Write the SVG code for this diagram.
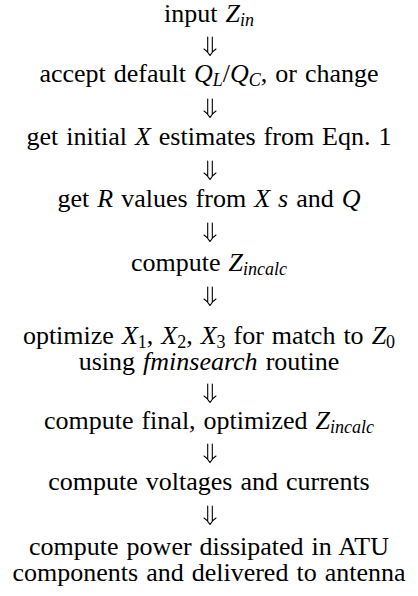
<svg xmlns="http://www.w3.org/2000/svg" width="418" height="596" viewBox="0 0 418 596">
<style>
text{font-family:"Liberation Serif","Times New Roman",serif;font-size:26px;word-spacing:1.5px;fill:#000;text-anchor:middle}
.m{font-style:italic}
.s{font-size:18px;font-style:italic}
.sn{font-size:18px}
.arr{fill:none;stroke:#000;stroke-width:1.1;stroke-linecap:round;stroke-linejoin:round}
</style>
<rect width="418" height="596" fill="#fff"/>
<defs>
<path id="dn" class="arr" d="M-2.3,0V15M2.3,0V15M-6,12Q-2,14.5 0,18.5Q2,14.5 6,12"/>
</defs>
<g id="connectors">
<use href="#dn" x="210" y="37"/>
<use href="#dn" x="210" y="99"/>
<use href="#dn" x="210" y="161"/>
<use href="#dn" x="210" y="223"/>
<use href="#dn" x="210" y="287"/>
<use href="#dn" x="210" y="384"/>
<use href="#dn" x="210" y="444"/>
<use href="#dn" x="210" y="506"/>
</g>
<g id="n1"><text x="209" y="22">input <tspan class="m">Z</tspan><tspan class="s" dy="4">in</tspan></text></g>
<g id="n2"><text x="209" y="82">accept default <tspan class="m">Q</tspan><tspan class="s" dy="4">L</tspan><tspan dy="-4">/</tspan><tspan class="m">Q</tspan><tspan class="s" dy="4">C</tspan><tspan dy="-4">, or change</tspan></text></g>
<g id="n3"><text x="209" y="145">get initial <tspan class="m">X</tspan> estimates from Eqn. 1</text></g>
<g id="n4"><text x="209" y="207">get <tspan class="m">R</tspan> values from <tspan class="m">X s</tspan> and <tspan class="m">Q</tspan></text></g>
<g id="n5"><text x="209" y="271">compute <tspan class="m">Z</tspan><tspan class="s" dy="4">incalc</tspan></text></g>
<g id="n6"><text x="209" y="344">optimize <tspan class="m">X</tspan><tspan class="sn" dy="4">1</tspan><tspan dy="-4">, </tspan><tspan class="m">X</tspan><tspan class="sn" dy="4">2</tspan><tspan dy="-4">, </tspan><tspan class="m">X</tspan><tspan class="sn" dy="4">3</tspan><tspan dy="-4"> for match to </tspan><tspan class="m">Z</tspan><tspan class="sn" dy="4">0</tspan></text>
<text x="209" y="370">using <tspan class="m">fminsearch</tspan> routine</text></g>
<g id="n7"><text x="209" y="429">compute final, optimized <tspan class="m">Z</tspan><tspan class="s" dy="4">incalc</tspan></text></g>
<g id="n8"><text x="209" y="490">compute voltages and currents</text></g>
<g id="n9"><text x="209" y="555">compute power dissipated in ATU</text>
<text x="209" y="581">components and delivered to antenna</text></g>
</svg>
